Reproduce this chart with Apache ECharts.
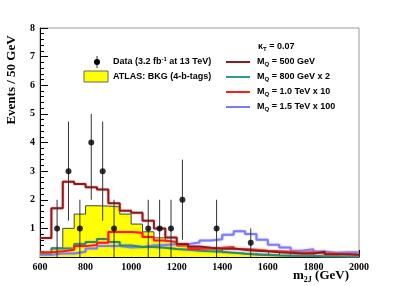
<!DOCTYPE html>
<html><head><meta charset="utf-8">
<script src="https://cdn.jsdelivr.net/npm/echarts@6/dist/echarts.min.js"></script>
<style>html,body{margin:0;padding:0;background:#fff}#c{width:399px;height:286px}</style>
</head><body><div id="c"></div>
<script>
// bin lower edges (GeV), 50 GeV bins
const binLow = [600,650,700,750,800,850,900,950,1000,1050,1100,1150,1200,1250,1300,1350,1400,1450,1500,1550,1600,1650,1700,1750,1800,1850,1900,1950];
const binWidth = 50;
const bkg        = [0.10,0.32,1.00,1.50,1.79,1.78,1.75,1.50,1.15,0.88,0.67,0.55,0.42,0.33,0.28,0.22,0.15,0.10,0.07,0.05,0.04,0.03,0.02,0.02,0.01,0.01,0.01,0.01];
const sig500     = [0.66,1.70,2.63,2.55,2.44,2.36,1.88,1.62,1.55,1.27,1.00,0.68,0.45,0.37,0.32,0.29,0.30,0.25,0.22,0.20,0.17,0.15,0.12,0.12,0.18,0.10,0.10,0.08];
const sig800x2   = [0.12,0.30,0.30,0.45,0.52,0.63,0.52,0.40,0.35,0.35,0.32,0.28,0.25,0.22,0.20,0.18,0.15,0.12,0.10,0.08,0.06,0.05,0.05,0.04,0.03,0.03,0.02,0.02];
const sig1000x10 = [0.17,0.20,0.25,0.38,0.42,0.50,0.87,0.87,0.85,0.70,0.58,0.52,0.40,0.28,0.30,0.32,0.35,0.28,0.25,0.22,0.20,0.18,0.15,0.17,0.12,0.12,0.10,0.08];
const sig1500x100= [0.08,0.12,0.12,0.18,0.30,0.38,0.38,0.33,0.35,0.40,0.42,0.45,0.45,0.51,0.58,0.62,0.78,0.90,0.80,0.60,0.43,0.33,0.22,0.27,0.19,0.15,0.17,0.17];
// data points (bin centres)
const dataX  = [675,725,775,825,875,925,1075,1125,1175,1225,1375,1525];
const dataY  = [1,3,1,4,3,1,1,1,1,2,1,0.5];
const dataLo = [0,1.27,0,2,1.27,0,0,0,0,0.6,0,0];
const dataHi = [2,4.73,2,5,4.73,2,2,2,2,3.4,2,1];
const xTickLabels = [600,800,1000,1200,1400,1600,1800,2000];
const yTickLabels = [1,2,3,4,5,6,7,8];

function stepData(vals){
  const d = binLow.map((x,i)=>[x, vals[i]]);
  d.push([binLow[binLow.length-1]+binWidth, vals[vals.length-1]]);
  return d;
}
const serif = '"Liberation Serif", "DejaVu Serif", serif';
const sans = '"Liberation Sans", Arial, sans-serif';

const chart = echarts.init(document.getElementById('c'), null, {renderer:'canvas'});
function histLine(name, vals, color, halo, z){
  return {name, type:'line', step:'end', data:stepData(vals), symbol:'none', z,
    lineStyle:{color, width:2, shadowColor:halo, shadowBlur:2}, animation:false};
}
const legText = {a:{fontFamily:sans, fontWeight:'bold', fontSize:9, lineHeight:11, verticalAlign:'middle'},
                  s:{fontFamily:sans, fontWeight:'bold', fontSize:6, lineHeight:11, verticalAlign:'bottom'},
                  u:{fontFamily:sans, fontWeight:'bold', fontSize:6, lineHeight:11, verticalAlign:'top'}};
const option = {
  animation:false,
  grid:{left:40, right:40, top:28, bottom:29, show:true, borderColor:'#999', borderWidth:1},
  xAxis:{type:'value', min:600, max:2000, interval:200,
    axisLine:{show:true, onZero:false, lineStyle:{color:'#000'}},
    axisTick:{inside:true, length:7, lineStyle:{color:'#000'}},
    minorTick:{show:true, splitNumber:4, length:4, lineStyle:{color:'#000'}},
    splitLine:{show:false},
    axisLabel:{margin:5, fontFamily:serif, fontWeight:'bold', fontSize:10, color:'#000',
      formatter:v=> xTickLabels.includes(v) ? String(v) : ''}},
  yAxis:{type:'value', min:0, max:8, interval:1,
    axisLine:{show:true, lineStyle:{color:'#000'}},
    axisTick:{inside:true, length:8, lineStyle:{color:'#000'}},
    minorTick:{show:true, splitNumber:5, length:4, lineStyle:{color:'#000'}},
    splitLine:{show:false},
    axisLabel:{margin:5, fontFamily:serif, fontWeight:'bold', fontSize:10, color:'#000',
      formatter:v=> yTickLabels.includes(v) ? String(v) : ''}},
  series:[
    {name:'bkg', type:'line', step:'end', data:stepData(bkg), symbol:'none', z:1,
      lineStyle:{color:'#444', width:1}, areaStyle:{color:'#ffff00', opacity:1}},
    histLine('1500', sig1500x100, '#7b7bff', 'rgba(150,150,255,0.8)', 2),
    histLine('800', sig800x2, '#2f8a6a', 'rgba(120,180,160,0.8)', 3),
    histLine('1000', sig1000x10, '#ff1a1a', 'rgba(255,130,130,0.8)', 4),
    histLine('500', sig500, '#8e1b1b', 'rgba(200,130,130,0.9)', 5),
    {type:'custom', z:8, data:dataX.map((x,i)=>[x,dataLo[i],dataHi[i]]),
      encode:{x:0, y:[1,2]},
      renderItem:(params, api)=>{
        const p1 = api.coord([api.value(0), api.value(1)]);
        const p2 = api.coord([api.value(0), api.value(2)]);
        return {type:'line', shape:{x1:p1[0], y1:p1[1], x2:p2[0], y2:p2[1]},
          style:{stroke:'#333', lineWidth:1}};
      }},
    {type:'scatter', z:9, symbol:'circle', symbolSize:6, itemStyle:{color:'#000'},
      data:dataX.map((x,i)=>[x,dataY[i]])}
  ],
  graphic:[
    {type:'text', x:12, y:80, rotation:Math.PI/2, z:20,
      style:{text:'Events / 50 GeV', fontFamily:serif, fontWeight:'bold', fontSize:13, fill:'#000', align:'center', verticalAlign:'middle'}},
    {type:'text', x:293, y:276, z:20,
      style:{text:'{a|m}{s|2J}{a| (GeV)}', fill:'#000', verticalAlign:'middle',
        rich:{a:{fontFamily:serif, fontWeight:'bold', fontSize:13, lineHeight:15, verticalAlign:'middle'},
              s:{fontFamily:serif, fontWeight:'bold', fontSize:8, lineHeight:15, verticalAlign:'bottom'}}}},
    // left legend column
    {type:'line', shape:{x1:97, y1:56, x2:97, y2:68}, style:{stroke:'#333', lineWidth:1}, z:20},
    {type:'circle', shape:{cx:97, cy:62, r:3}, style:{fill:'#000'}, z:21},
    {type:'text', x:113, y:62, z:20,
      style:{text:'{a|Data (3.2 fb}{u|-1}{a| at 13 TeV)}', fill:'#000', verticalAlign:'middle', rich:legText}},
    {type:'rect', shape:{x:84, y:71, width:24, height:11}, style:{fill:'#ffff00', stroke:'#666', lineWidth:1}, z:20},
    {type:'text', x:113, y:77, z:20,
      style:{text:'{a|ATLAS: BKG (4-b-tags)}', fill:'#000', verticalAlign:'middle', rich:legText}},
    // right legend column
    {type:'text', x:258, y:47, z:20,
      style:{text:'{a|κ}{s|T}{a| = 0.07}', fill:'#000', verticalAlign:'middle', rich:legText}},
    ...[['500 GeV','#8e1b1b',62],['800 GeV x 2','#2f9a9a',77],['1.0 TeV x 10','#ff1a1a',92],['1.5 TeV x 100','#7b7bff',107]].flatMap(([t,c,y])=>[
      {type:'line', shape:{x1:226, y1:y, x2:250, y2:y}, style:{stroke:c, lineWidth:2}, z:20},
      {type:'text', x:257, y:y, z:20,
        style:{text:'{a|M}{s|Q}{a| = '+t+'}', fill:'#000', verticalAlign:'middle', rich:legText}}
    ])
  ]
};
chart.setOption(option);
</script></body></html>
